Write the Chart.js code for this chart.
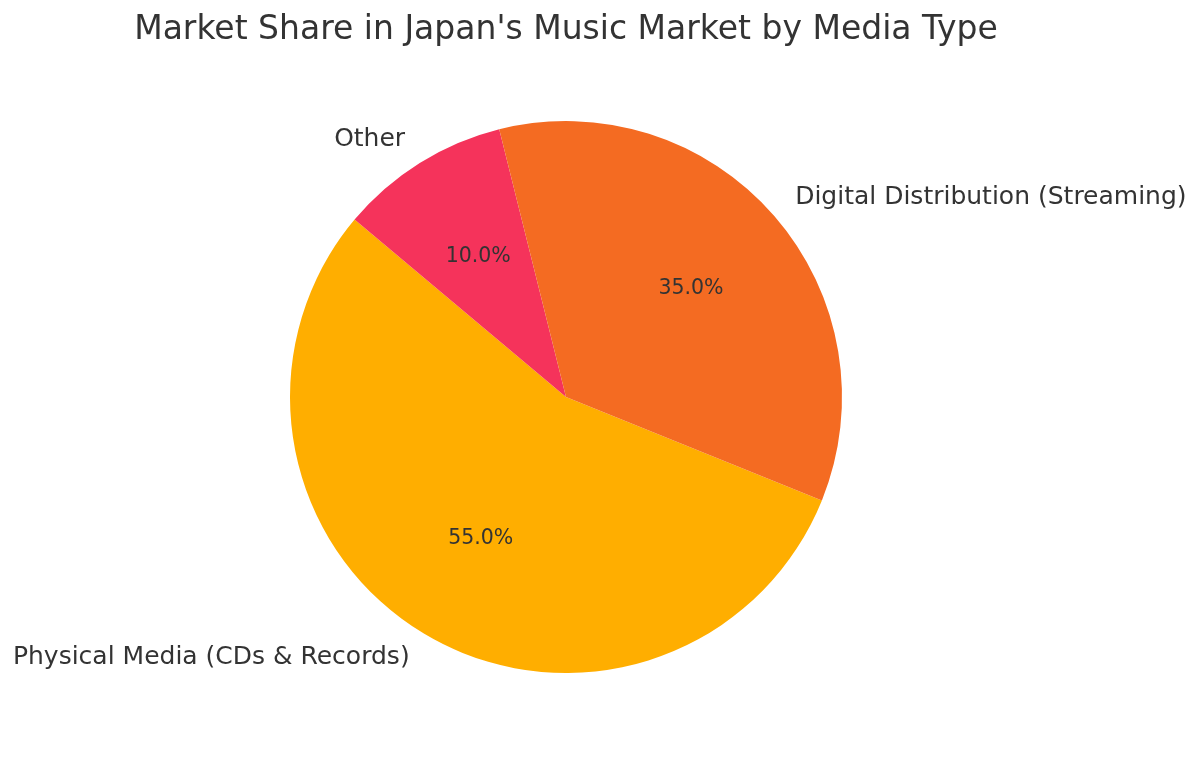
<!DOCTYPE html>
<html>
<head>
<meta charset="utf-8">
<script src="https://cdn.jsdelivr.net/npm/chart.js@4"></script>
<style>
  html, body { margin: 0; padding: 0; background: #fff; }
  #wrap { width: 1200px; height: 757px; position: relative; }
</style>
</head>
<body>
<div id="wrap"><canvas id="pieChart"></canvas></div>
<script>
// clockwise order, starting from the Digital/Physical boundary
const labels = ["Physical Media (CDs & Records)", "Other", "Digital Distribution (Streaming)"];
const shares = [55, 10, 35];
const colors = ["#FFAE00", "#F5335B", "#F46B22"];
const titleText = "Market Share in Japan's Music Market by Media Type";

const textColor = "#333333";
const fontFamily = "'DejaVu Sans', sans-serif";

const pieLabels = {
  id: "pieLabels",
  afterDraw(chart) {
    const ctx = chart.ctx;
    const meta = chart.getDatasetMeta(0);
    ctx.save();
    ctx.fillStyle = textColor;

    // title
    ctx.font = "33px " + fontFamily;
    ctx.textAlign = "center";
    ctx.textBaseline = "middle";
    ctx.fillText(titleText, 566, 30);

    meta.data.forEach((arc, i) => {
      const mid = (arc.startAngle + arc.endAngle) / 2;
      const r = arc.outerRadius;
      const cx = arc.x, cy = arc.y;
      const cos = Math.cos(mid), sin = Math.sin(mid);

      // outside category label
      ctx.font = "25px " + fontFamily;
      ctx.textAlign = cos < 0 ? "right" : "left";
      ctx.textBaseline = "middle";
      ctx.fillText(labels[i], cx + 1.1 * r * cos, cy + 1.1 * r * sin);

      // percentage inside
      ctx.font = "20.5px " + fontFamily;
      ctx.textAlign = "center";
      ctx.fillText(shares[i].toFixed(1) + "%", cx + 0.6 * r * cos, cy + 0.6 * r * sin);
    });
    ctx.restore();
  }
};

new Chart(document.getElementById("pieChart"), {
  type: "pie",
  data: {
    labels: labels,
    datasets: [
      {
        data: shares,
        backgroundColor: colors,
        borderWidth: 0,
      },
    ],
  },
  options: {
    responsive: true,
    maintainAspectRatio: false,
    animation: false,
    rotation: 112,
    layout: {
      padding: { left: 290, right: 358, top: 121, bottom: 84 },
    },
    plugins: {
      legend: { display: false },
      title: { display: false },
      tooltip: { enabled: false },
    },
  },
  plugins: [pieLabels],
});
</script>
</body>
</html>
